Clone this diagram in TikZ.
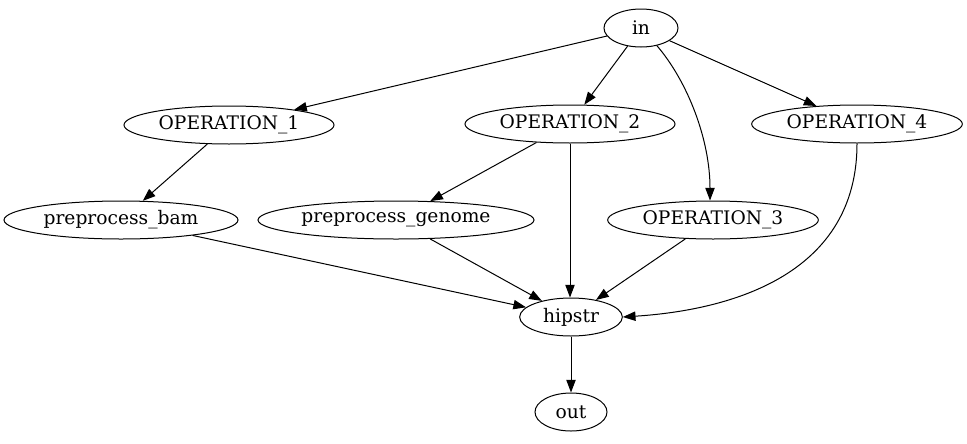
\documentclass[tikz,border=0pt]{standalone}
\usepackage{fontspec}
\setmainfont{DejaVu Serif}
\usetikzlibrary{shapes.geometric,arrows.meta}
\begin{document}
\begin{tikzpicture}[x=0.75pt,y=-0.75pt,
  nd/.style={draw,ellipse,inner sep=0pt,minimum height=28.5pt,font=\fontsize{14pt}{16pt}\selectfont,line width=0.75pt},
  ed/.style={draw,line width=0.75pt,-{Triangle[length=9.5pt,width=7pt]}}]
\useasboundingbox (0,0) rectangle (967,443);
\node[nd,minimum width=55.5pt] (in) at (641,28) {in};
\node[nd,minimum width=157.5pt] (op1) at (229,125) {OPERATION\_1};
\node[nd,minimum width=157.5pt] (op2) at (570,124) {OPERATION\_2};
\node[nd,minimum width=158pt] (op4) at (857,124) {OPERATION\_4};
\node[nd,minimum width=175.5pt] (bam) at (121,220) {preprocess\_bam};
\node[nd,minimum width=207pt] (gen) at (396,220) {preprocess\_genome};
\node[nd,minimum width=158pt] (op3) at (713,220) {OPERATION\_3};
\node[nd,minimum width=77pt] (hip) at (571,317) {hipstr};
\node[nd,minimum width=54pt] (out) at (571,412) {out};
\draw[ed] (in) -- (op1);
\draw[ed] (in) -- (op2);
\draw[ed] (in) -- (op4);
\draw[ed] (in.-48) .. controls (688,82) and (710,140) .. (op3.north -| 710,0);
\draw[ed] (op1) -- (bam);
\draw[ed] (op2) -- (gen);
\draw[ed] (op2.south -| 570,0) -- (hip.north -| 570,0);
\draw[ed] (bam) -- (hip);
\draw[ed] (gen) -- (hip);
\draw[ed] (op3) -- (hip);
\draw[ed] (op4.south) .. controls (857,290) and (700,312) .. (hip.east);
\draw[ed] (hip) -- (out);
\end{tikzpicture}
\end{document}
